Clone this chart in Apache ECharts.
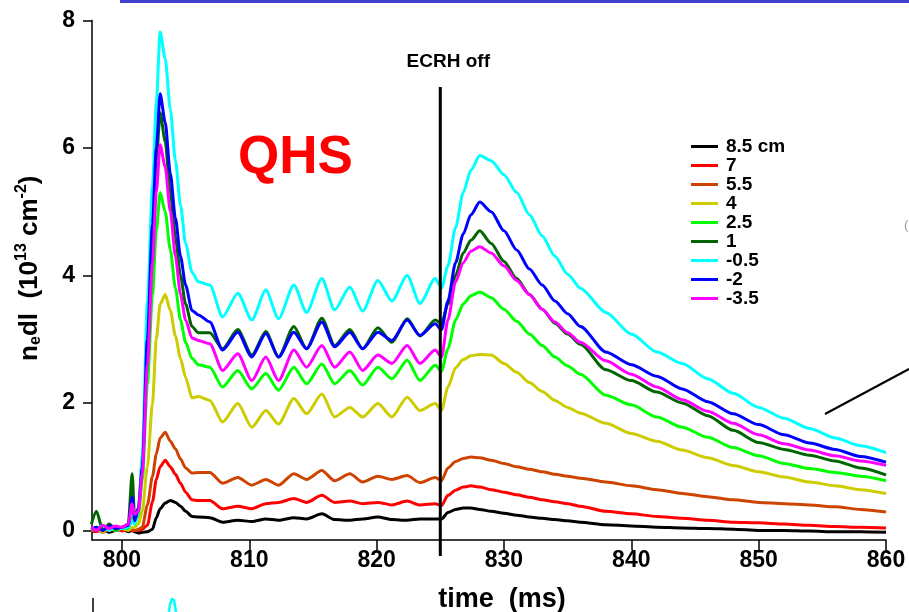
<!DOCTYPE html>
<html><head><meta charset="utf-8">
<script src="https://cdn.jsdelivr.net/npm/echarts@6/dist/echarts.min.js"></script>
<style>html,body{margin:0;padding:0;background:#fff}#c{width:909px;height:612px}</style>
</head><body><div id="c"></div>
<script>
// time (ms)
const time = [797.6,798,798.5,799,799.5,800,800.5,800.8,801,801.3,801.6,802,802.4,802.7,803,803.4,803.8,804.2,804.6,805,805.5,806,
806.9,807.9,809.1,810.2,811.3,812.3,813.5,814.5,815.7,816.7,817.9,818.9,820.1,821.2,822.4,823.4,824.6,
825.1,825.6,826.2,826.8,827.4,828.1,829,830,831,832,833,834,835,836,838,840,842,844,846,848,850,852,854,856,858,860];

const names = ['8.5 cm','7','5.5','4','2.5','1','-0.5','-2','-3.5'];
const colors = ['#000000','#ff0000','#cc4400','#cccc00','#00ff00','#006400','#00ffff','#0000ff','#ff00ff'];

const r85 = [-0.02,0.0,0.02,-0.03,0.0,0.02,-0.02,0.0,-0.02,-0.04,-0.03,-0.02,0.02,0.2,0.34,0.43,0.47,0.44,0.38,0.3,0.22,0.21,
0.2,0.13,0.16,0.14,0.18,0.16,0.2,0.18,0.26,0.17,0.16,0.18,0.21,0.17,0.16,0.18,0.18,
0.18,0.28,0.33,0.35,0.35,0.33,0.3,0.27,0.24,0.21,0.19,0.17,0.15,0.13,0.09,0.07,0.05,0.04,0.03,0.02,0.0,0.0,-0.01,-0.02,-0.02,-0.03];
const r7 = [0.0,-0.02,0.02,0.0,0.03,-0.01,0.02,0.0,0.0,0.0,0.02,0.08,0.45,0.8,1.0,1.1,1.0,0.88,0.74,0.6,0.48,0.47,
0.47,0.34,0.38,0.34,0.42,0.44,0.5,0.44,0.55,0.44,0.46,0.42,0.44,0.4,0.46,0.4,0.42,
0.39,0.55,0.63,0.68,0.7,0.68,0.64,0.6,0.56,0.52,0.48,0.45,0.42,0.38,0.3,0.26,0.22,0.19,0.16,0.13,0.12,0.1,0.08,0.06,0.05,0.04];
const r55 = [0.0,0.02,-0.03,0.02,0.0,0.03,0.01,0.02,0.0,0.02,0.05,0.4,0.85,1.2,1.45,1.54,1.4,1.28,1.12,0.98,0.9,0.91,
0.91,0.74,0.83,0.71,0.8,0.71,0.89,0.8,0.94,0.78,0.89,0.76,0.85,0.8,0.86,0.75,0.83,
0.78,0.98,1.08,1.13,1.15,1.14,1.1,1.05,1.0,0.96,0.92,0.88,0.85,0.82,0.76,0.7,0.64,0.58,0.53,0.48,0.44,0.42,0.4,0.37,0.33,0.29];
const r4 = [0.0,0.03,-0.02,0.04,0.01,0.03,0.0,0.05,0.05,0.1,0.3,1.0,2.0,3.0,3.55,3.7,3.45,3.05,2.7,2.4,2.08,2.1,
2.04,1.7,1.99,1.62,1.88,1.67,2.07,1.83,2.14,1.78,1.93,1.78,1.99,1.78,2.09,1.88,1.99,
1.88,2.25,2.55,2.68,2.74,2.76,2.75,2.62,2.48,2.32,2.18,2.04,1.93,1.84,1.68,1.52,1.4,1.26,1.14,1.02,0.92,0.84,0.76,0.7,0.64,0.58];
const r25 = [0.0,0.05,0.02,0.06,0.0,0.04,0.03,0.2,0.1,0.25,0.8,2.3,3.7,4.7,5.3,5.0,4.4,3.8,3.3,2.95,2.7,2.6,
2.56,2.25,2.51,2.22,2.46,2.2,2.56,2.3,2.61,2.3,2.51,2.28,2.56,2.38,2.67,2.35,2.59,
2.5,2.85,3.3,3.55,3.68,3.74,3.65,3.47,3.28,3.08,2.9,2.72,2.58,2.45,2.12,1.97,1.78,1.62,1.46,1.3,1.17,1.05,0.97,0.91,0.85,0.78];
const r1 = [0.1,0.3,0.0,0.1,0.02,0.05,0.1,0.89,0.2,0.35,1.0,2.9,4.6,5.8,6.55,6.1,5.3,4.6,4.0,3.55,3.2,3.1,
3.1,2.85,3.15,2.75,3.12,2.72,3.2,2.85,3.33,2.9,3.15,2.85,3.18,2.95,3.32,3.05,3.3,
3.25,3.55,4.0,4.35,4.55,4.7,4.5,4.22,3.95,3.7,3.47,3.25,3.08,2.92,2.52,2.35,2.17,2.0,1.8,1.57,1.38,1.27,1.18,1.09,0.98,0.87];
const rm05 = [0.05,0.02,0.08,0.0,0.06,0.03,0.05,0.15,0.1,0.3,1.2,3.6,5.4,6.7,7.82,7.4,6.6,5.8,5.1,4.5,4.05,3.9,
3.85,3.35,3.72,3.3,3.77,3.32,3.85,3.42,3.95,3.46,3.82,3.44,3.92,3.6,4.0,3.56,3.95,
3.8,4.15,4.75,5.3,5.65,5.88,5.8,5.58,5.3,4.95,4.62,4.3,4.02,3.8,3.42,3.08,2.8,2.62,2.38,2.15,1.93,1.76,1.6,1.45,1.33,1.22];
const rm2 = [0.02,0.05,0.0,0.07,0.03,0.05,0.08,0.52,0.15,0.35,1.0,3.0,4.8,6.0,6.85,6.4,5.6,4.9,4.3,3.85,3.45,3.38,
3.27,2.83,3.11,2.72,3.09,2.72,3.11,2.85,3.27,2.88,3.11,2.85,3.11,2.98,3.3,3.06,3.24,
3.15,3.6,4.2,4.65,4.95,5.15,5.0,4.7,4.4,4.1,3.85,3.6,3.4,3.2,2.8,2.6,2.42,2.22,2.02,1.83,1.66,1.5,1.37,1.27,1.16,1.07];
const rm35 = [0.05,0.0,0.08,0.03,0.07,0.05,0.1,0.42,0.25,0.3,0.9,2.6,4.2,5.3,6.05,5.7,5.0,4.3,3.7,3.3,3.02,2.98,
2.93,2.51,2.77,2.35,2.72,2.35,2.83,2.56,2.9,2.56,2.8,2.51,2.75,2.62,2.9,2.62,2.83,
2.72,3.3,3.9,4.2,4.38,4.45,4.35,4.15,3.92,3.7,3.47,3.27,3.1,2.95,2.66,2.45,2.25,2.05,1.87,1.68,1.5,1.36,1.26,1.17,1.09,1.02];

const xTicks = [800,810,820,830,840,850,860];
const yTicks = [0,2,4,6,8];
const ecrhTime = 825;

const values = [r85,r7,r55,r4,r25,r1,rm05,rm2,rm35];
const FONT = 'Liberation Sans, Arial, sans-serif';

const chart = echarts.init(document.getElementById('c'), null, {renderer:'canvas'});
const series = names.map((n,k)=>({
  name:n, type:'line', showSymbol:false, symbol:'none', animation:false,
  smooth:0.25, smoothMonotone:'x',
  lineStyle:{color:colors[k], width:3}, itemStyle:{color:colors[k]},
  data: time.map((t,i)=>[t, values[k][i]])
}));

chart.setOption({
  backgroundColor:'#fff',
  animation:false,
  grid:{left:92, right:23, top:20.4, bottom:72, outerBoundsMode:'none', containLabel:false},
  legend:{
    data:names, orient:'vertical', left:686, top:132, icon:'rect', itemWidth:27, itemHeight:3, itemGap:0,
    itemStyle:{borderWidth:0},
    textStyle:{fontFamily:FONT, fontWeight:'bold', fontSize:19, color:'#000', lineHeight:17, padding:[0,0,0,3]}
  },
  xAxis:{
    type:'value', min:797.65, max:860,
    axisLine:{show:true, onZero:false, lineStyle:{color:'#000', width:1.5}},
    axisTick:{show:true, customValues:xTicks, length:10, lineStyle:{color:'#000', width:1.5}},
    axisLabel:{customValues:xTicks, fontFamily:FONT, fontWeight:'bold', fontSize:23, color:'#000', margin:9},
    splitLine:{show:false},
    name:'time  (ms)', nameLocation:'middle', nameGap:46,
    nameTextStyle:{fontFamily:FONT, fontWeight:'bold', fontSize:27, color:'#000', padding:[0,0,0,26]}
  },
  yAxis:{
    type:'value', min:-0.15, max:8,
    axisLine:{show:true, onZero:false, lineStyle:{color:'#000', width:1.5}},
    axisTick:{show:true, customValues:yTicks, length:9, lineStyle:{color:'#000', width:1.5}},
    axisLabel:{customValues:yTicks, fontFamily:FONT, fontWeight:'bold', fontSize:23, color:'#000', margin:17},
    splitLine:{show:false},
    name:'n{sub|e}dl  (10{sup|13} cm{sup|-2})', nameLocation:'middle', nameGap:47, nameRotate:90,
    nameTextStyle:{fontFamily:FONT, fontWeight:'bold', fontSize:26, color:'#000', padding:[0,0,0,24],
      rich:{
        sub:{fontFamily:FONT, fontWeight:'bold', fontSize:16, color:'#000', padding:[12,0,0,0]},
        sup:{fontFamily:FONT, fontWeight:'bold', fontSize:16, color:'#000', padding:[0,0,15,0]}
      }}
  },
  series: series
});

const p0 = chart.convertToPixel({gridIndex:0}, [ecrhTime, 0]);
const xL = p0[0];
chart.setOption({
  graphic:[
    {type:'line', shape:{x1:xL, y1:87, x2:xL, y2:556}, style:{stroke:'#000', lineWidth:3}, z:100},
    {type:'text', x:xL+8, y:62, style:{text:'ECRH off', fontFamily:FONT, fontWeight:'bold', fontSize:19, fill:'#000', align:'center', verticalAlign:'middle'}, z:100},
    {type:'text', x:238, y:158, style:{text:'QHS', fontFamily:FONT, fontWeight:'bold', fontSize:53, fill:'#ff0000', align:'left', verticalAlign:'middle'}, z:100},
    {type:'line', shape:{x1:120, y1:1.5, x2:909, y2:1.5}, style:{stroke:'#4040cc', lineWidth:3}},
    {type:'line', shape:{x1:825, y1:414, x2:909, y2:369}, style:{stroke:'#000', lineWidth:2}},
    {type:'text', x:904, y:225, style:{text:'(', fontFamily:FONT, fontSize:13, fill:'#999', verticalAlign:'middle'}},
    {type:'line', shape:{x1:93, y1:598, x2:93, y2:612}, style:{stroke:'#000', lineWidth:1.5}},
    {type:'polyline', shape:{points:[[169,612],[170,604],[172,599],[174,600],[175,606],[176,612]]}, style:{stroke:'#00ffff', lineWidth:2.5, fill:null}}
  ]
});
</script></body></html>
